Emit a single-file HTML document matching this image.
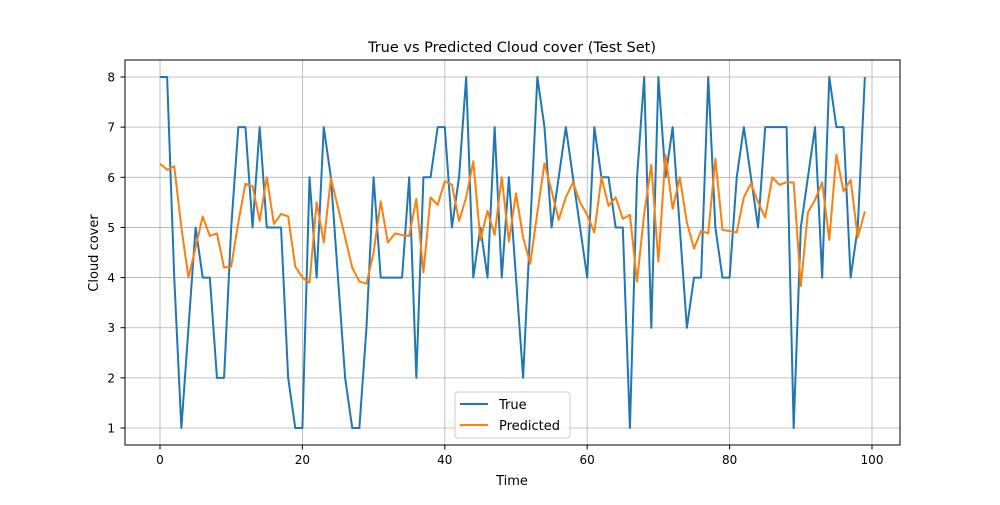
<!DOCTYPE html>
<html><head><meta charset="utf-8"><style>
body{margin:0;background:#fff;font-family:"Liberation Sans","DejaVu Sans",sans-serif}
</style></head><body>
<svg width="1000" height="500" xmlns="http://www.w3.org/2000/svg" font-family="DejaVu Sans, Liberation Sans, sans-serif">
<g id="grid"></g>
<g id="lines"></g>
<rect x="125" y="60" width="775" height="385" fill="none" stroke="#000" stroke-width="1"/>
<g id="ticks"></g>
<text x="512" y="52" text-anchor="middle" font-size="14.5">True vs Predicted Cloud cover (Test Set)</text>
<text x="512" y="485" text-anchor="middle" font-size="13">Time</text>
<text x="98" y="253" text-anchor="middle" font-size="13" transform="rotate(-90 98 253)">Cloud cover</text>
<g>
<rect x="455" y="392" width="115" height="46" rx="3" fill="#fff" fill-opacity="0.8" stroke="#ccc"/>
<line x1="460" y1="404" x2="488" y2="404" stroke="#1f77b4" stroke-width="2"/>
<text x="499" y="409" font-size="13">True</text>
<line x1="460" y1="425" x2="488" y2="425" stroke="#ff7f0e" stroke-width="2"/>
<text x="499" y="430" font-size="13">Predicted</text>
</g>
</svg>
<script>
const trueVals=[8,8,4,1,3,5,4,4,2,2,5,7,7,5,7,5,5,5,2,1,1,6,4,7,6,4,2,1,1,3,6,4,4,4,4,6,2,6,6,7,7,5,6,8,4,5,4,7,4,6,4,2,5,8,7,5,6,7,6,5,4,7,6,6,5,5,1,6,8,3,8,6,7,5,3,4,4,8,5,4,4,6,7,6,5,7,7,7,7,1,5,6,7,4,8,7,7,4,5,8];
const predVals=[6.27,6.15,6.22,5.0,4.0,4.6,5.22,4.83,4.88,4.2,4.22,5.1,5.87,5.82,5.13,6.0,5.07,5.27,5.22,4.22,4.0,3.9,5.5,4.7,5.98,5.4,4.8,4.2,3.92,3.88,4.5,5.52,4.7,4.88,4.85,4.83,5.57,4.1,5.6,5.45,5.92,5.85,5.13,5.6,6.32,4.75,5.33,4.85,6.0,4.72,5.68,4.8,4.28,5.3,6.28,5.73,5.15,5.6,5.9,5.5,5.25,4.9,6.0,5.43,5.6,5.17,5.25,3.92,5.27,6.25,4.32,6.45,5.37,6.0,5.1,4.58,4.93,4.88,6.37,4.95,4.93,4.9,5.6,5.88,5.5,5.2,6.0,5.85,5.9,5.9,3.83,5.3,5.55,5.9,4.75,6.45,5.72,5.95,4.8,5.32];
const xTicks=[0,20,40,60,80,100];
const yTicks=[1,2,3,4,5,6,7,8];
const NS='http://www.w3.org/2000/svg';
const xs=v=>160+v*7.12;
const ys=v=>428-(v-1)*50.14;
function mk(t,a,p){const e=document.createElementNS(NS,t);for(const k in a)e.setAttribute(k,a[k]);p.appendChild(e);return e;}
const g=document.getElementById('grid'),tk=document.getElementById('ticks'),ln=document.getElementById('lines');
xTicks.forEach(v=>{const x=xs(v);
 if(x<=900){const l=mk('line',{x1:x,x2:x,y1:60,y2:445,stroke:'#b0b0b0','stroke-width':0.8},g);
 
 
 mk('line',{x1:x,x2:x,y1:445,y2:449.5,stroke:'#000'},tk);
 const t=mk('text',{x:x,y:464,'text-anchor':'middle','font-size':12},tk);t.textContent=v;
 
 }
});
yTicks.forEach(v=>{const y=ys(v);
 const l=mk('line',{x1:125,x2:900,y1:y,y2:y,stroke:'#b0b0b0','stroke-width':0.8},g);
 
 
 mk('line',{x1:120.5,x2:125,y1:y,y2:y,stroke:'#000'},tk);
 const t=mk('text',{x:115,y:y+4.5,'text-anchor':'end','font-size':12},tk);t.textContent=v;
 
 
});
function series(vals,color,name){
 const p=mk('polyline',{points:vals.map((v,i)=>xs(i)+','+ys(v)).join(' '),fill:'none',stroke:color,'stroke-width':2,'stroke-linejoin':'round'},ln);
 
 
}
series(trueVals,'#1f77b4','true-line');
series(predVals,'#ff7f0e','predicted-line');
</script>
</body></html>
